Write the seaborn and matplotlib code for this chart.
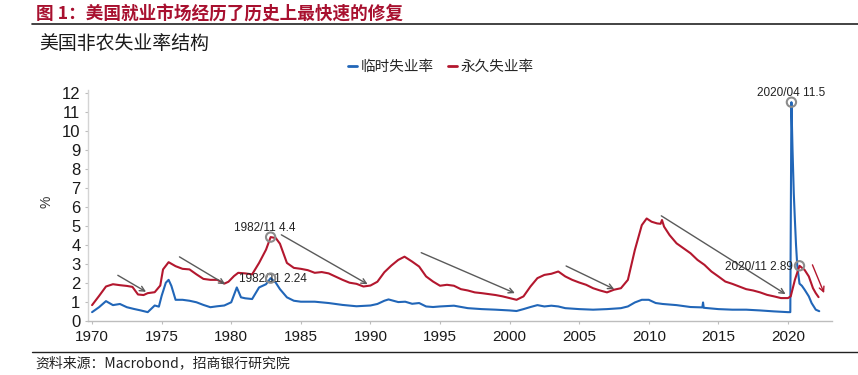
import numpy as np
import pandas as pd
import matplotlib
matplotlib.use("Agg")
import matplotlib.pyplot as plt
import seaborn as sns
from matplotlib.lines import Line2D

# ---------------- data ----------------
series_names = ["临时失业率", "永久失业率"]

perm_years = [1970.0, 1970.5, 1971.0, 1971.5, 1972.0, 1972.5, 1972.9, 1973.3, 1973.7, 1974.0,
              1974.5, 1974.9, 1975.1, 1975.5, 1976.0, 1976.5, 1977.0, 1977.5, 1978.0, 1978.5,
              1979.0, 1979.5, 1979.8, 1980.2, 1980.5, 1981.0, 1981.5, 1982.0, 1982.5, 1982.83,
              1983.2, 1983.5, 1984.0, 1984.5, 1985.0, 1985.5, 1986.0, 1986.5, 1987.0, 1987.5,
              1988.0, 1988.5, 1989.0, 1989.5, 1990.0, 1990.5, 1991.0, 1991.5, 1992.0, 1992.45,
              1993.0, 1993.5, 1994.0, 1994.5, 1995.0, 1995.5, 1996.0, 1996.5, 1997.0, 1997.5,
              1998.0, 1998.5, 1999.0, 1999.5, 2000.0, 2000.5, 2001.0, 2001.5, 2002.0, 2002.5,
              2003.0, 2003.5, 2004.0, 2004.5, 2005.0, 2005.5, 2006.0, 2006.5, 2007.0, 2007.5,
              2008.0, 2008.5, 2009.0, 2009.5, 2009.85, 2010.2, 2010.6, 2010.85, 2010.95, 2011.1,
              2011.5, 2012.0, 2012.5, 2013.0, 2013.5, 2014.0, 2014.5, 2015.0, 2015.5, 2016.0,
              2016.5, 2017.0, 2017.5, 2018.0, 2018.5, 2019.0, 2019.5, 2020.0, 2020.2, 2020.5,
              2020.83, 2021.2, 2021.5, 2021.8, 2022.0, 2022.2]
perm_vals = [0.82, 1.30, 1.80, 1.92, 1.87, 1.83, 1.78, 1.38, 1.35, 1.45,
             1.50, 1.85, 2.70, 3.08, 2.87, 2.73, 2.70, 2.44, 2.20, 2.15,
             2.15, 1.95, 2.05, 2.35, 2.52, 2.49, 2.44, 3.04, 3.74, 4.40,
             4.35, 4.05, 3.04, 2.78, 2.73, 2.66, 2.52, 2.56, 2.49, 2.32,
             2.15, 2.00, 1.94, 1.80, 1.85, 2.05, 2.55, 2.90, 3.20, 3.37,
             3.11, 2.85, 2.33, 2.06, 1.84, 1.89, 1.84, 1.66, 1.59, 1.49,
             1.45, 1.40, 1.35, 1.28, 1.19, 1.10, 1.28, 1.80, 2.24, 2.41,
             2.47, 2.59, 2.33, 2.15, 2.01, 1.89, 1.71, 1.59, 1.49, 1.63,
             1.71, 2.15, 3.72, 5.03, 5.38, 5.21, 5.12, 5.10, 5.30, 4.95,
             4.50, 4.07, 3.81, 3.55, 3.20, 2.94, 2.59, 2.33, 2.06, 1.94,
             1.80, 1.66, 1.59, 1.49, 1.36, 1.28, 1.19, 1.19, 1.28, 2.15,
             2.89, 2.67, 2.33, 1.71, 1.45, 1.24]

temp_years = [1970.0, 1970.5, 1971.0, 1971.5, 1972.0, 1972.5, 1973.0, 1973.5, 1974.0, 1974.5,
              1974.8, 1975.0, 1975.3, 1975.5, 1975.7, 1976.0, 1976.5, 1977.0, 1977.5, 1978.0,
              1978.5, 1979.0, 1979.5, 1980.0, 1980.4, 1980.7, 1981.0, 1981.5, 1982.0, 1982.5,
              1982.83, 1983.2, 1983.5, 1984.0, 1984.5, 1985.0, 1986.0, 1987.0, 1988.0, 1989.0,
              1990.0, 1990.5, 1991.0, 1991.3, 1992.0, 1992.5, 1993.0, 1993.5, 1994.0, 1994.5,
              1995.0, 1996.0, 1997.0, 1998.0, 1999.0, 2000.0, 2000.5, 2001.0, 2001.5, 2002.0,
              2002.5, 2003.0, 2003.5, 2004.0, 2005.0, 2006.0, 2007.0, 2008.0, 2008.5, 2009.0,
              2009.5, 2010.0, 2010.5, 2011.0, 2012.0, 2013.0, 2013.85, 2013.9, 2013.95, 2015.0,
              2016.0, 2017.0, 2018.0, 2019.0, 2020.0, 2020.17, 2020.25, 2020.33, 2020.42, 2020.5,
              2020.58, 2020.67, 2020.83, 2021.0, 2021.2, 2021.5, 2021.7, 2022.0, 2022.25]
temp_vals = [0.45, 0.71, 1.03, 0.82, 0.88, 0.71, 0.62, 0.54, 0.45, 0.80,
             0.74, 1.31, 2.00, 2.15, 1.83, 1.10, 1.10, 1.05, 0.97, 0.83,
             0.71, 0.76, 0.80, 0.97, 1.75, 1.23, 1.18, 1.14, 1.75, 1.92,
             2.24, 2.00, 1.66, 1.23, 1.05, 1.00, 1.00, 0.93, 0.83, 0.76,
             0.80, 0.88, 1.05, 1.12, 0.98, 1.00, 0.89, 0.93, 0.75, 0.72,
             0.75, 0.79, 0.66, 0.61, 0.58, 0.54, 0.51, 0.61, 0.72, 0.82,
             0.75, 0.79, 0.75, 0.66, 0.61, 0.58, 0.61, 0.66, 0.75, 0.96,
             1.10, 1.10, 0.93, 0.88, 0.82, 0.72, 0.70, 0.96, 0.68, 0.61,
             0.58, 0.58, 0.54, 0.49, 0.45, 0.45, 11.50, 9.00, 6.70, 5.30,
             4.00, 2.90, 1.95, 1.84, 1.63, 1.28, 0.93, 0.58, 0.50]

x_ticks = [1970, 1975, 1980, 1985, 1990, 1995, 2000, 2005, 2010, 2015, 2020]
y_ticks = list(range(0, 13))

# highlighted points: (label, year, value)
highlight_labels = ["2020/04 11.5", "2020/11 2.89", "1982/11 4.4", "1982/11 2.24"]
highlight_x = [2020.25, 2020.83, 1982.83, 1982.83]
highlight_y = [11.5, 2.89, 4.4, 2.24]

# trend arrows (start -> end)
arrow_start = [(1971.85, 2.39), (1976.28, 3.36), (1983.6, 4.52), (1993.65, 3.58),
               (2004.06, 2.88), (2010.9, 5.52)]
arrow_end = [(1973.88, 1.52), (1979.57, 1.92), (1989.8, 1.92), (2000.38, 1.45),
             (2007.52, 1.66), (2019.83, 1.40)]
red_arrow_start = (2021.76, 2.94)
red_arrow_end = (2022.6, 1.45)

# ---------------- style ----------------
BLUE = "#2166b8"
RED = "#b3172e"
TITLE_RED = "#a8102f"
GRAY_ARROW = "#5a5a5a"

sns.set_theme(style="white")
plt.rcParams['font.family'] = ['Liberation Sans', 'Noto Sans CJK SC', 'DejaVu Sans']
CJK = ['Noto Sans CJK SC', 'DejaVu Sans']

fig = plt.figure(figsize=(8.58, 3.75), dpi=100)
ax = fig.add_axes([0.1026, 0.1448, 0.867, 0.6156])

df = pd.concat([
    pd.DataFrame({"year": temp_years, "value": temp_vals, "series": series_names[0]}),
    pd.DataFrame({"year": perm_years, "value": perm_vals, "series": series_names[1]}),
], ignore_index=True)

sns.lineplot(data=df, x="year", y="value", hue="series", palette=[BLUE, RED],
             hue_order=series_names, linewidth=1.5, estimator=None, sort=False,
             legend=False, ax=ax)

ax.set_xlim(1969.71, 2023.16)
ax.set_ylim(0, 12.15)
ax.set_xticks(x_ticks)
ax.set_yticks(y_ticks)
ax.set_xlabel("")
ax.set_ylabel("")
for s in ["top", "right"]:
    ax.spines[s].set_visible(False)
ax.spines["left"].set_color("#d4d4d4")
ax.spines["bottom"].set_color("#bdbdbd")
ax.spines["left"].set_linewidth(1.0)
ax.spines["bottom"].set_linewidth(1.0)
ax.tick_params(axis="both", which="major", bottom=True, left=True, direction="out",
               length=2.5, width=0.8, color="#bdbdbd", labelcolor="#1a1a1a")
ax.tick_params(axis="y", pad=3, labelsize=12)
ax.tick_params(axis="x", pad=4, labelsize=11)

# arrows
for st, en in zip(arrow_start, arrow_end):
    ax.annotate("", xy=en, xytext=st,
                arrowprops=dict(arrowstyle="->", color=GRAY_ARROW, lw=1.0,
                                shrinkA=0, shrinkB=0, mutation_scale=9))
ax.annotate("", xy=red_arrow_end, xytext=red_arrow_start,
            arrowprops=dict(arrowstyle="->", color=RED, lw=1.0,
                            shrinkA=0, shrinkB=0, mutation_scale=9))

# highlighted points
ax.scatter(highlight_x, highlight_y, s=45, facecolors="none", edgecolors="#8c8c8c",
           linewidths=1.5, zorder=5)
ann_fs = 8.5
ax.text(highlight_x[0], highlight_y[0] + 0.5, highlight_labels[0], ha="center", va="center",
        fontsize=ann_fs, color="#222222")
ax.text(highlight_x[1] - 0.45, highlight_y[1] - 0.05, highlight_labels[1], ha="right", va="center",
        fontsize=ann_fs, color="#222222")
ax.text(highlight_x[2] - 0.45, highlight_y[2] + 0.5, highlight_labels[2], ha="center", va="center",
        fontsize=ann_fs, color="#222222")
ax.text(highlight_x[3] + 0.15, highlight_y[3] - 0.05, highlight_labels[3], ha="center", va="center",
        fontsize=ann_fs, color="#222222")

# legend
handles = [Line2D([0], [0], color=BLUE, lw=2), Line2D([0], [0], color=RED, lw=2)]
fig.legend(handles, series_names, loc="center", bbox_to_anchor=(0.514, 0.822), ncol=2,
           frameon=False, handlelength=0.6, handletextpad=0.25, columnspacing=1.0,
           prop={"family": CJK, "size": 10.5})

# y label
fig.text(0.054, 0.462, "%", rotation=90, ha="center", va="center", fontsize=10, color="#333333")

# titles and rules
fig.text(0.042, 0.963, "图 1：美国就业市场经历了历史上最快速的修复", ha="left", va="center",
         fontsize=12.7, fontweight="bold", color=TITLE_RED, family=CJK)
fig.add_artist(Line2D([0.0373, 1.0], [0.936, 0.936], transform=fig.transFigure,
                      color="#222222", lw=1.2))
fig.text(0.046, 0.884, "美国非农失业率结构", ha="left", va="center", fontsize=13.6,
         color="#1a1a1a", family=CJK)
fig.add_artist(Line2D([0.0373, 1.0], [0.062, 0.062], transform=fig.transFigure,
                      color="#222222", lw=1.0))
fig.text(0.041, 0.032, "资料来源：Macrobond，招商银行研究院", ha="left", va="center",
         fontsize=10, color="#222222", family=CJK)

fig.savefig("out.png", dpi=100)
